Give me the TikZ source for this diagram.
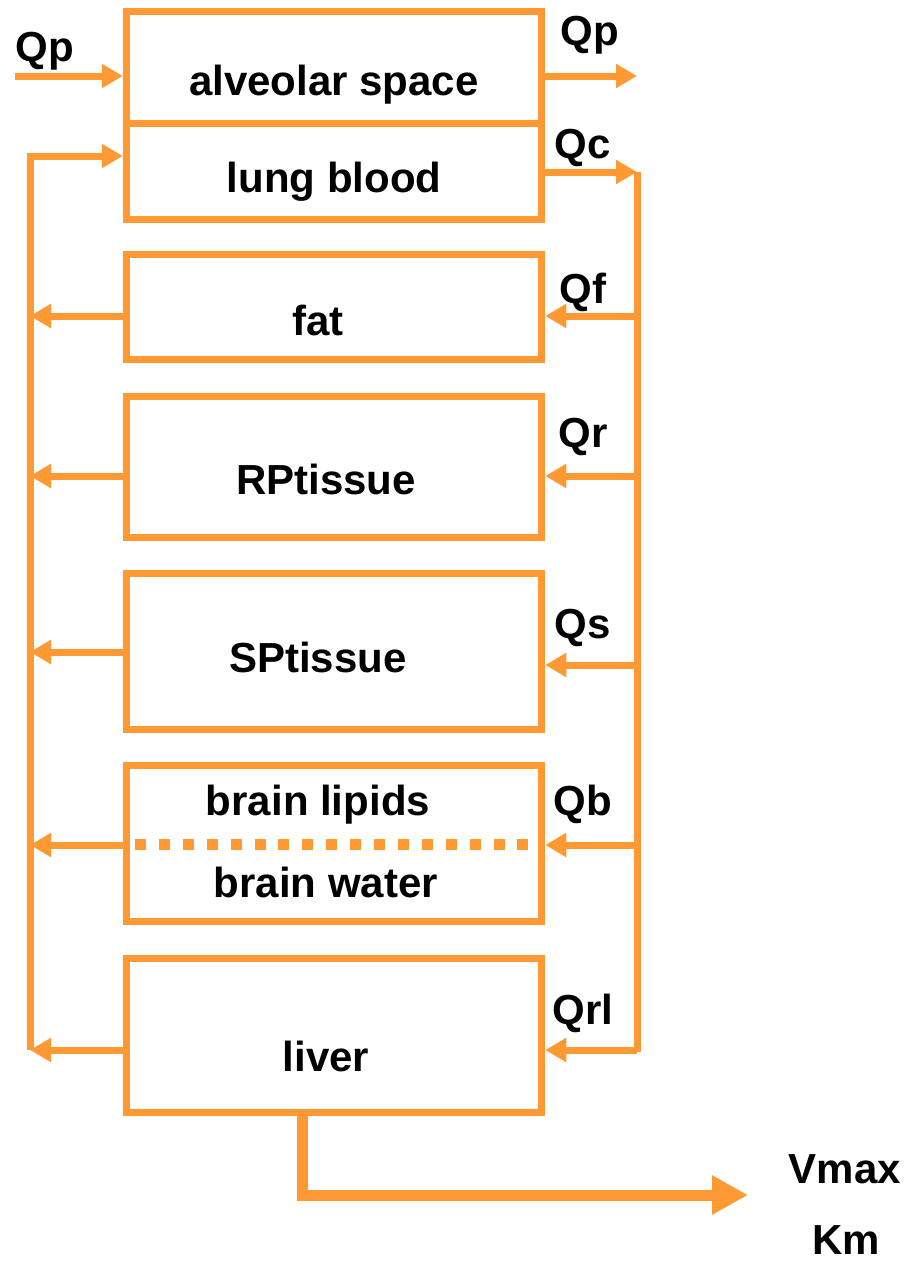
\documentclass[tikz,border=0pt]{standalone}
\usepackage{fontspec}
\setmainfont{Liberation Sans}
\usetikzlibrary{arrows.meta}
\definecolor{flow}{RGB}{255,153,51}
\tikzset{
  box/.style={draw=flow, line width=7pt, inner sep=0pt, minimum width=415.5pt},
  lbl/.style={font=\fontsize{42}{48}\selectfont\bfseries, inner sep=0pt, text=black, anchor=base},
  pipe/.style={draw=flow, line width=7pt},
  arr/.style={pipe, -{Triangle[length=21pt,width=23pt]}},
  metarr/.style={draw=flow, line width=11pt, -{Triangle[length=36pt,width=37pt]}},
  dots/.style={draw=flow, line width=11pt, dash pattern=on 11pt off 12.9pt},
}
\begin{document}
\begin{tikzpicture}[x=1pt,y=-1pt]
\useasboundingbox (0,0) rectangle (909,1263);

% compartments
\node[box, minimum height=111pt] (alv)   at (334,67.5)  {};
\node[box, minimum height=96pt]  (lung)  at (334,171)   {};
\node[box, minimum height=105pt] (fat)   at (334,306.5) {};
\node[box, minimum height=141pt] (rp)    at (334,466.5) {};
\node[box, minimum height=156pt] (sp)    at (334,651)   {};
\node[box, minimum height=156pt] (brain) at (334,843)   {};
\node[box, minimum height=154pt] (liver) at (334,1035)  {};

% compartment names (placed on their baselines)
\node[lbl] (talv)   at (334,95)   {alveolar space};
\node[lbl] (tlung)  at (334,192)  {lung blood};
\node[lbl] (tfat)   at (318,335)  {fat};
\node[lbl] (trp)    at (326,494)  {RPtissue};
\node[lbl] (tsp)    at (318,672)  {SPtissue};
\node[lbl] (tbl)    at (318,815)  {brain lipids};
\node[lbl] (tbw)    at (326,897)  {brain water};
\node[lbl] (tliver) at (326,1071) {liver};

% brain lipid / water partition
\coordinate (dl) at (135,844);
\coordinate (dr) at (528,844);
\draw[dots] (dl) -- (dr);

% inhaled / exhaled air
\coordinate (qpin) at (15,76);
\coordinate (qpout) at (637,76);
\draw[arr] (qpin) -- (qpin -| alv.west);
\draw[arr] (qpout -| alv.east) -- (qpout);

% arterial side
\coordinate (rtop) at (637,172);
\coordinate (rbot) at (637,1052);
\draw[arr] (rtop -| lung.east) -- (rtop);
\draw[pipe] (rtop) -- (rbot);

% venous return
\coordinate (ltop) at (30,156);
\coordinate (lbot) at (30,1050);
\draw[arr] (lbot) -- (ltop) -- (ltop -| lung.west);

% tissue inflows
\coordinate (rf) at (637,316);
\coordinate (rr) at (637,476);
\coordinate (rs) at (637,665);
\coordinate (rb) at (637,845);
\coordinate (rl) at (637,1050);
\draw[arr] (rf) -- (rf -| fat.east);
\draw[arr] (rr) -- (rr -| rp.east);
\draw[arr] (rs) -- (rs -| sp.east);
\draw[arr] (rb) -- (rb -| brain.east);
\draw[arr] (rl) -- (rl -| liver.east);

% tissue outflows
\coordinate (lf) at (30,316);
\coordinate (lr) at (30,476);
\coordinate (ls) at (30,652);
\coordinate (lb) at (30,845);
\coordinate (ll) at (30,1050);
\draw[arr] (lf -| fat.west) -- (lf);
\draw[arr] (lr -| rp.west) -- (lr);
\draw[arr] (ls -| sp.west) -- (ls);
\draw[arr] (lb -| brain.west) -- (lb);
\draw[arr] (ll -| liver.west) -- (ll);

% hepatic metabolism
\coordinate (mc) at (302,1195);
\coordinate (mend) at (748,1195);
\draw[metarr] (mc |- liver.south) -- (mc) -- (mend);

% flow labels (placed on their baselines)
\node[lbl] (qp1) at (45,62)    {Qp};
\node[lbl] (qp2) at (590,46)   {Qp};
\node[lbl] (qc)  at (583,158)  {Qc};
\node[lbl] (qf)  at (583,303)  {Qf};
\node[lbl] (qr)  at (583,447)  {Qr};
\node[lbl] (qs)  at (583,638)  {Qs};
\node[lbl] (qb)  at (583,815)  {Qb};
\node[lbl] (qrl) at (583,1024) {Qrl};
\node[lbl] (vmax) at (845,1183) {Vmax};
\node[lbl] (km)   at (846,1254) {Km};
\end{tikzpicture}
\end{document}
